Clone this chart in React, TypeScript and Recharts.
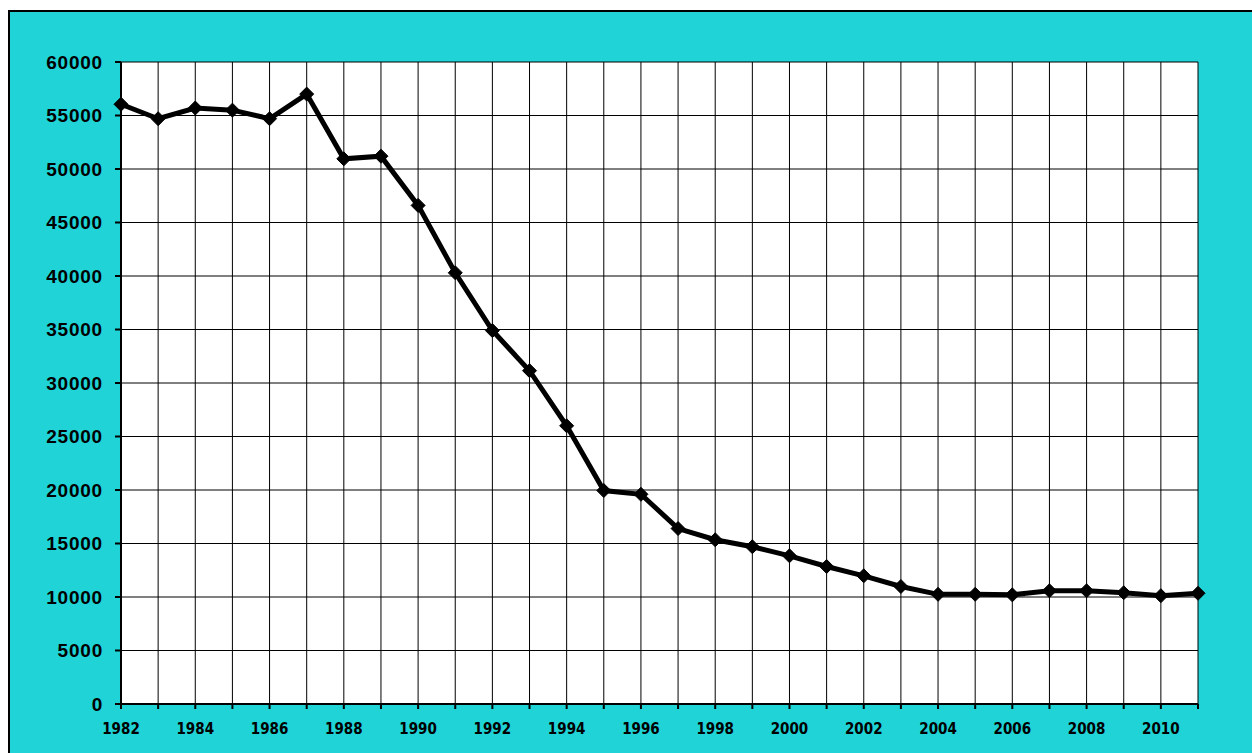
import React from 'react';
import { LineChart, Line, XAxis, YAxis, CartesianGrid } from 'recharts';

const years = [
  1982, 1983, 1984, 1985, 1986, 1987, 1988, 1989, 1990, 1991,
  1992, 1993, 1994, 1995, 1996, 1997, 1998, 1999, 2000, 2001,
  2002, 2003, 2004, 2005, 2006, 2007, 2008, 2009, 2010, 2011,
];

const values = [
  56050, 54700, 55700, 55500, 54700, 57000, 50950, 51200, 46600, 40300,
  34900, 31150, 26000, 19950, 19600, 16400, 15350, 14700, 13850, 12850,
  11980, 10980, 10250, 10250, 10200, 10580, 10580, 10400, 10120, 10350,
];

const yTicks = [0, 5000, 10000, 15000, 20000, 25000, 30000, 35000, 40000, 45000, 50000, 55000, 60000];

const chartData = years.map((year, i) => ({ year, value: values[i] }));

const Diamond = (props: any) => {
  const { cx, cy } = props;
  if (cx == null || cy == null) return null;
  const r = 7;
  return (
    <polygon
      points={`${cx},${cy - r} ${cx + r},${cy} ${cx},${cy + r} ${cx - r},${cy}`}
      fill="#000"
      stroke="#000"
    />
  );
};

const App = () => {
  return (
    <div
      style={{
        position: 'fixed',
        left: 8,
        top: 10,
        width: 1244,
        height: 743,
        overflow: 'hidden',
      }}
    >
      <div
        style={{
          width: 1270,
          height: 770,
          background: '#1FD3D6',
          border: '2px solid #000',
          boxSizing: 'border-box',
        }}
      >
        <LineChart
          width={1240}
          height={740}
          data={chartData}
          margin={{ top: 50, right: 52, bottom: 18, left: 0 }}
        >
          <CartesianGrid stroke="#000" strokeWidth={1} fill="#fff" />
          <XAxis
            dataKey="year"
            type="number"
            domain={[1982, 2011]}
            ticks={years}
            interval={0}
            height={30}
            tickSize={5}
            tickMargin={14}
            stroke="#000"
            strokeWidth={2}
            tickFormatter={(v: number) => (v % 2 === 0 ? String(v) : '')}
            tick={{
              fill: '#000',
              fontSize: 15,
              fontWeight: 'bold',
              fontFamily: '"Liberation Sans Narrow", "DejaVu Sans Condensed", Arial, sans-serif',
            }}
          />
          <YAxis
            domain={[0, 60000]}
            ticks={yTicks}
            interval={0}
            width={111}
            tickSize={6}
            tickMargin={12}
            stroke="#000"
            strokeWidth={2}
            tick={{
              fill: '#000',
              fontSize: 19,
              fontWeight: 'bold',
              letterSpacing: 0.8,
              fontFamily: '"Liberation Sans", Arial, sans-serif',
            }}
          />
          <Line
            type="linear"
            dataKey="value"
            stroke="#000"
            strokeWidth={5}
            dot={<Diamond />}
            activeDot={false}
            isAnimationActive={false}
          />
        </LineChart>
      </div>
    </div>
  );
};

export default App;
